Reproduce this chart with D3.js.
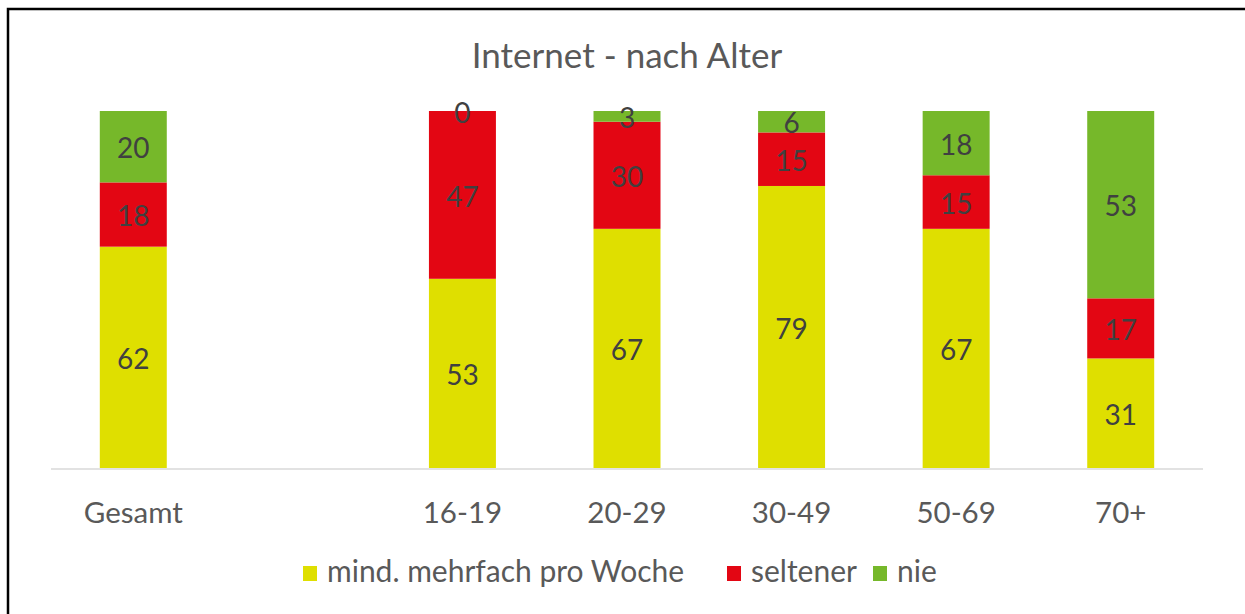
<!DOCTYPE html>
<html>
<head>
<meta charset="utf-8">
<script src="https://cdn.jsdelivr.net/npm/d3@7"></script>
<style>
  body { margin: 0; background: #fff; }
  text { font-family: Lato, "Open Sans", sans-serif; }
</style>
</head>
<body>
<svg id="chart" width="1245" height="614"></svg>
<script>
// categories (second slot is an empty gap in the original)
var categories = ["Gesamt", "", "16-19", "20-29", "30-49", "50-69", "70+"];
var seriesNames = ["mind. mehrfach pro Woche", "seltener", "nie"];
var seriesColors = ["#dfdf00", "#e30613", "#76b82a"];
var oft = [62, null, 53, 67, 79, 67, 31];
var seltener = [18, null, 47, 30, 15, 15, 17];
var nie = [20, null, 0, 3, 6, 18, 53];

var svg = d3.select("#chart");

// frame (cut off on right and bottom)
svg.append("rect")
  .attr("x", 8).attr("y", 9)
  .attr("width", 1400).attr("height", 800)
  .attr("fill", "none").attr("stroke", "#000").attr("stroke-width", 2.5);

svg.append("text")
  .attr("x", 627).attr("y", 68)
  .attr("text-anchor", "middle")
  .attr("font-size", 35)
  .attr("fill", "#595959")
  .text("Internet - nach Alter");

var x = d3.scaleBand()
  .domain(categories.map((c, i) => i))
  .range([51, 1203])
  .paddingInner(0.593)
  .paddingOuter(0.2965);

var y = d3.scaleLinear().domain([0, 1]).range([468, 111]);

// build rows and a normalized (100%) stack
var rows = categories.map((c, i) => ({
  idx: i, cat: c,
  s0: oft[i], s1: seltener[i], s2: nie[i]
})).filter(d => d.s0 !== null);

var stack = d3.stack()
  .keys(["s0", "s1", "s2"])
  .offset(d3.stackOffsetExpand);
var layers = stack(rows);

var g = svg.append("g");

layers.forEach(function (layer, li) {
  g.selectAll(".bar" + li)
    .data(layer)
    .enter().append("rect")
    .attr("x", d => x(d.data.idx))
    .attr("width", x.bandwidth())
    .attr("y", d => y(d[1]))
    .attr("height", d => y(d[0]) - y(d[1]))
    .attr("fill", seriesColors[li]);
});

// axis line
svg.append("line")
  .attr("x1", 51).attr("x2", 1203)
  .attr("y1", 469).attr("y2", 469)
  .attr("stroke", "#d9d9d9").attr("stroke-width", 1.5);

// value labels
layers.forEach(function (layer, li) {
  g.selectAll(".lab" + li)
    .data(layer)
    .enter().append("text")
    .attr("x", d => x(d.data.idx) + x.bandwidth() / 2)
    .attr("y", d => (y(d[0]) + y(d[1])) / 2)
    .attr("dy", "0.42em")
    .attr("text-anchor", "middle")
    .attr("font-size", 28)
    .attr("fill", "#404040")
    .text(d => d.data[layer.key]);
});

// category labels
svg.selectAll(".cat")
  .data(categories.map((c, i) => ({ c: c, i: i })))
  .enter().append("text")
  .attr("x", d => x(d.i) + x.bandwidth() / 2)
  .attr("y", 523)
  .attr("text-anchor", "middle")
  .attr("font-size", 29.5)
  .attr("fill", "#595959")
  .text(d => d.c);

// legend
var legendX = [303, 727, 873];
var legend = svg.selectAll(".leg")
  .data(seriesNames)
  .enter().append("g")
  .attr("transform", (d, i) => "translate(" + legendX[i] + ",0)");
legend.append("rect")
  .attr("x", 0).attr("y", 566)
  .attr("width", 14).attr("height", 15)
  .attr("fill", (d, i) => seriesColors[i]);
legend.append("text")
  .attr("x", 24).attr("y", 582)
  .attr("font-size", 30)
  .attr("fill", "#595959")
  .text(d => d);
</script>
</body>
</html>
